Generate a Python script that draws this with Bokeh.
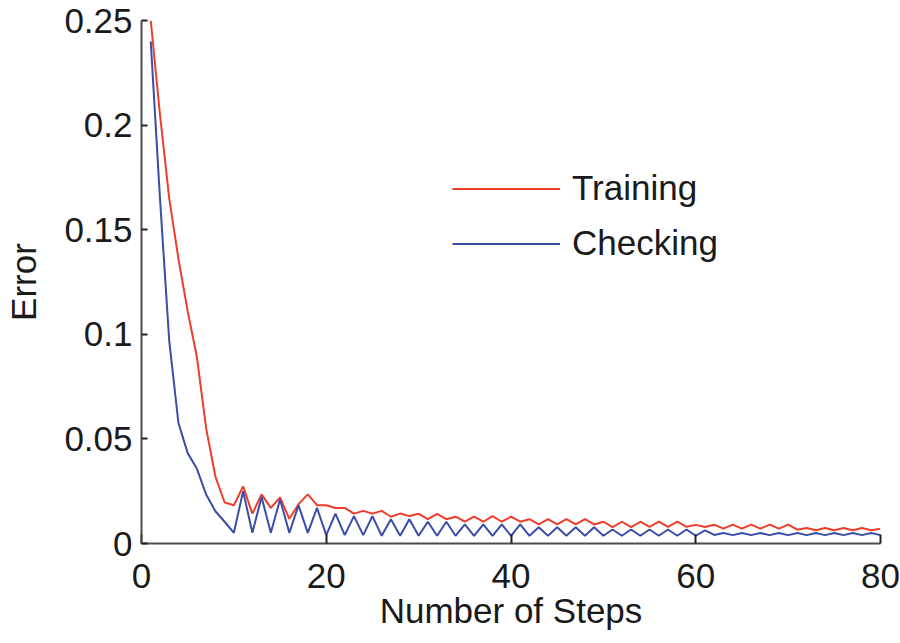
from bokeh.plotting import figure
from bokeh.models import Range1d, FixedTicker, Legend, LegendItem
from bokeh.embed import file_html
from bokeh.resources import INLINE

steps = list(range(1, 81))

training = [
    0.250, 0.205, 0.165, 0.136, 0.111, 0.089, 0.055, 0.032, 0.0196, 0.0183,
    0.0273, 0.0143, 0.0235, 0.0170, 0.0220, 0.0118, 0.0188, 0.0235, 0.0183, 0.0183,
    0.0170, 0.0170, 0.0143, 0.0156, 0.0143, 0.0156, 0.0128, 0.0143, 0.0131, 0.0142,
    0.0116, 0.0142, 0.0116, 0.0128, 0.0104, 0.0128, 0.0104, 0.0131, 0.0104, 0.0128,
    0.0104, 0.0116, 0.0091, 0.0116, 0.0091, 0.0116, 0.0091, 0.0116, 0.0091, 0.0104,
    0.0078, 0.0104, 0.0078, 0.0104, 0.0080, 0.0104, 0.0080, 0.0104, 0.0080, 0.0089,
    0.0079, 0.0090, 0.0071, 0.0090, 0.0071, 0.0090, 0.0071, 0.0090, 0.0071, 0.0090,
    0.0066, 0.0074, 0.0063, 0.0074, 0.0063, 0.0074, 0.0063, 0.0074, 0.0063, 0.0071,
]

checking = [
    0.240, 0.165, 0.097, 0.0576, 0.0432, 0.0357, 0.0234, 0.0154, 0.0104, 0.0051,
    0.0250, 0.0051, 0.0222, 0.0051, 0.0210, 0.0051, 0.0183, 0.0051, 0.0170, 0.0040,
    0.0143, 0.0040, 0.0131, 0.0040, 0.0131, 0.0037, 0.0116, 0.0037, 0.0116, 0.0037,
    0.0104, 0.0037, 0.0104, 0.0037, 0.0091, 0.0037, 0.0091, 0.0037, 0.0091, 0.0037,
    0.0091, 0.0037, 0.0078, 0.0037, 0.0078, 0.0037, 0.0078, 0.0037, 0.0078, 0.0037,
    0.0067, 0.0037, 0.0067, 0.0037, 0.0067, 0.0037, 0.0067, 0.0037, 0.0067, 0.0037,
    0.0063, 0.0041, 0.0050, 0.0040, 0.0050, 0.0040, 0.0050, 0.0040, 0.0050, 0.0040,
    0.0050, 0.0040, 0.0050, 0.0040, 0.0050, 0.0040, 0.0050, 0.0040, 0.0050, 0.0040,
]

x_ticks = [0, 20, 40, 60, 80]
x_tick_labels = ["0", "20", "40", "60", "80"]
y_ticks = [0, 0.05, 0.1, 0.15, 0.2, 0.25]
y_tick_labels = ["0", "0.05", "0.1", "0.15", "0.2", "0.25"]

FONT = "Liberation Sans"
TXT = "#1a1a1a"
FS = "35px"

p = figure(width=900, height=643, output_backend="svg", toolbar_location=None,
           x_range=Range1d(0, 80), y_range=Range1d(0, 0.25),
           min_border_left=141, min_border_right=20, min_border_top=20,
           min_border_bottom=100)
p.outline_line_color = None
p.xgrid.grid_line_color = None
p.ygrid.grid_line_color = None
p.background_fill_color = "white"
p.border_fill_color = "white"

r_train = p.line(steps, training, line_color="#EE3D2B", line_width=2)
r_check = p.line(steps, checking, line_color="#3A4DA8", line_width=2)

for ax, ticks, labels in ((p.xaxis[0], x_ticks, x_tick_labels), (p.yaxis[0], y_ticks, y_tick_labels)):
    ax.ticker = FixedTicker(ticks=ticks)
    ax.major_label_overrides = {t: l for t, l in zip(ticks, labels)}
    ax.minor_tick_line_color = None
    ax.major_tick_out = 0
    ax.axis_line_color = "#4d4d4d"
    ax.axis_line_width = 2
    ax.major_tick_line_color = "#222222"
    ax.major_tick_line_width = 2
    ax.major_label_text_font = FONT
    ax.major_label_text_font_size = FS
    ax.major_label_text_color = TXT
    ax.axis_label_text_font = FONT
    ax.axis_label_text_font_size = FS
    ax.axis_label_text_font_style = "normal"
    ax.axis_label_text_color = TXT

p.xaxis[0].major_tick_in = 9
p.yaxis[0].major_tick_in = 6
p.xaxis[0].major_label_standoff = 20
p.yaxis[0].major_label_standoff = 9
p.xaxis[0].axis_label = "Number of Steps"
p.yaxis[0].axis_label = "Error"
p.xaxis[0].axis_label_standoff = 0
p.yaxis[0].axis_label_standoff = 18

legend = Legend(items=[LegendItem(label="Training", renderers=[r_train]),
                       LegendItem(label="Checking", renderers=[r_check])],
                location=(311, 280), padding=0, margin=0, spacing=15,
                glyph_width=108, glyph_height=39, label_height=39,
                label_standoff=12, border_line_color=None,
                background_fill_alpha=0,
                label_text_font=FONT, label_text_font_size=FS,
                label_text_color=TXT)
p.add_layout(legend)

open("out.html", "w").write(file_html(p, INLINE))
